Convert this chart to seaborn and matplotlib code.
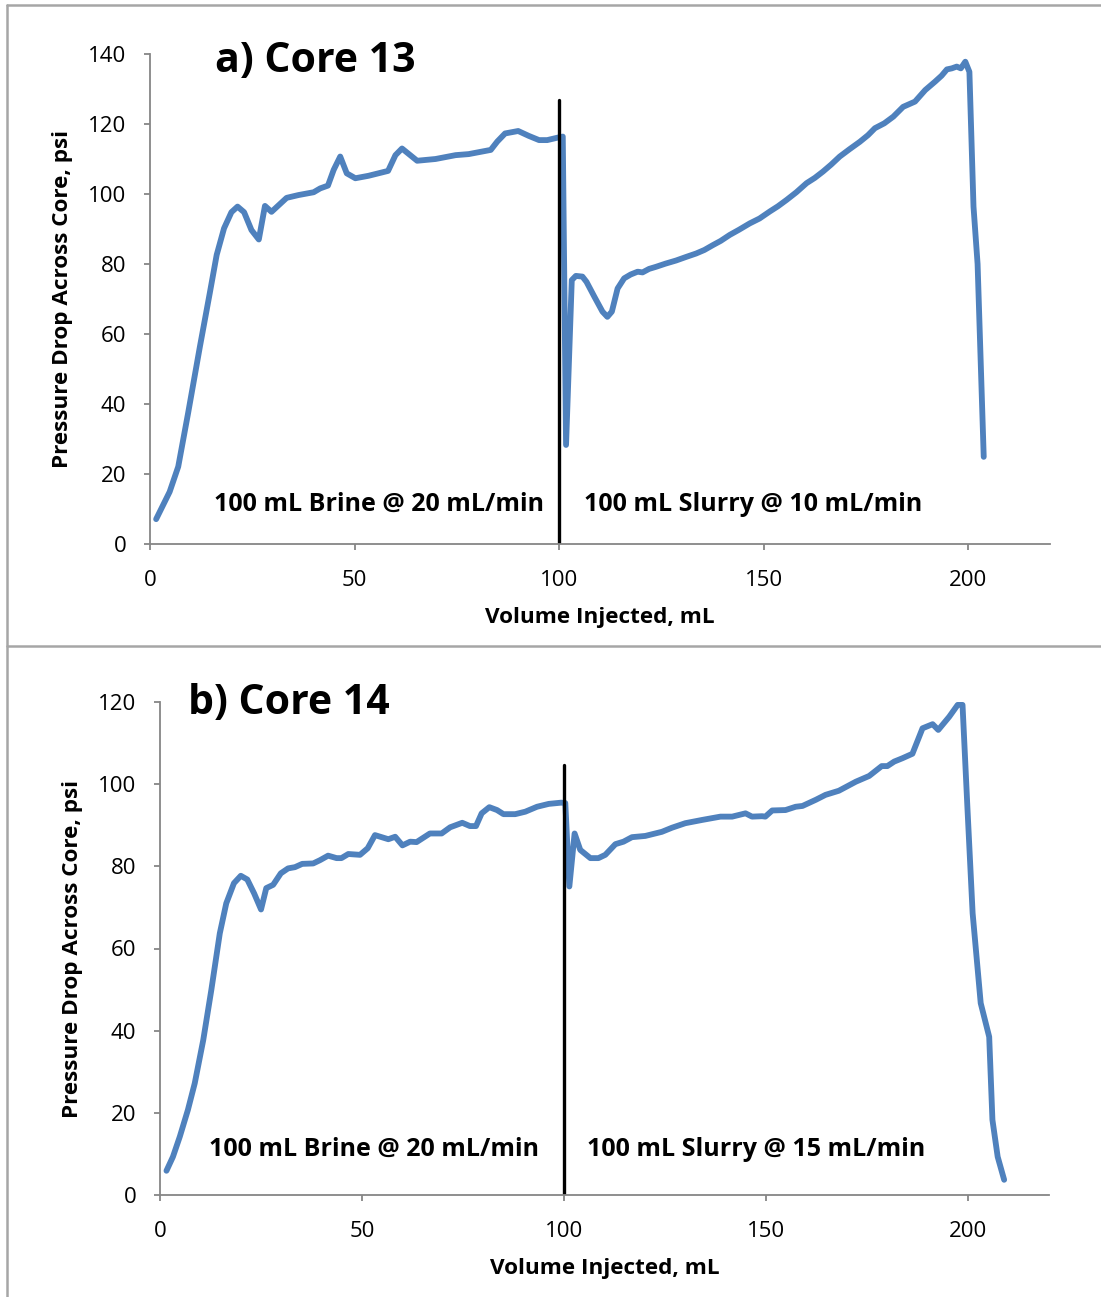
import seaborn as sns
import matplotlib.pyplot as plt
from matplotlib.lines import Line2D

# Core 13: volume injected (mL) vs pressure drop (psi)
core13_vol = [1.5, 4.8, 6.9, 9.3, 12.2, 14.6, 16.3, 18.1, 19.9, 21.4, 23.0, 24.8, 26.6,
              28.1, 29.7, 33.4, 36.3, 40.0, 41.6, 43.5, 44.9, 46.5, 48.1, 50.2, 53.4,
              58.2, 60.0, 61.6, 65.3, 69.8, 74.7, 77.9, 83.3, 84.9, 86.8, 90.0, 92.6,
              95.1, 97.1, 100.0, 100.9, 101.7, 103.1, 104.1, 105.7, 106.7, 108.6, 110.6,
              111.8, 112.9, 114.3, 115.9, 117.5, 119.2, 120.4, 122.0, 123.7, 126.0,
              128.6, 131.0, 133.5, 135.5, 137.6, 139.5, 141.7, 144.0, 146.6, 149.0,
              151.5, 153.5, 155.6, 158.0, 160.5, 162.5, 164.5, 166.5, 168.6, 171.0,
              173.5, 175.5, 177.2, 179.5, 181.7, 184.1, 187.0, 189.5, 191.9, 193.5,
              194.8, 196.0, 197.2, 198.2, 199.3, 200.3, 201.3, 202.3, 203.8]
core13_dp = [7.1, 14.9, 22.1, 37.3, 56.4, 71.6, 82.6, 90.2, 94.8, 96.4, 94.8, 89.7, 87.0,
             96.6, 94.9, 98.9, 99.7, 100.5, 101.6, 102.4, 106.9, 110.7, 105.9, 104.5, 105.2,
             106.6, 111.1, 113.0, 109.5, 110.0, 111.1, 111.4, 112.6, 115.0, 117.3, 118.0, 116.6,
             115.4, 115.4, 116.2, 116.4, 28.3, 75.4, 76.6, 76.4, 74.9, 70.7, 66.4,
             64.9, 66.4, 73.0, 75.9, 77.0, 77.8, 77.6, 78.6, 79.2, 80.1,
             81.0, 82.0, 83.0, 84.0, 85.4, 86.6, 88.3, 89.8, 91.6, 93.0,
             95.0, 96.5, 98.3, 100.5, 103.1, 104.6, 106.4, 108.4, 110.7, 112.8,
             114.9, 116.8, 118.8, 120.2, 122.1, 124.9, 126.4, 129.7, 132.1, 133.8,
             135.6, 135.9, 136.4, 135.9, 137.8, 134.9, 96.4, 80.0, 24.9]

# Core 14
core14_vol = [1.6, 3.2, 4.9, 6.9, 8.6, 10.7, 12.7, 14.8, 16.4, 18.3, 20.0, 21.6, 23.3,
              25.0, 26.3, 28.0, 29.9, 31.7, 33.4, 35.2, 37.9, 39.6, 41.6, 43.7, 44.9,
              46.6, 49.5, 51.4, 53.2, 56.5, 58.2, 60.0, 61.9, 63.5, 66.8, 69.7, 71.8,
              74.8, 76.7, 78.2, 79.6, 81.5, 83.4, 85.0, 87.9, 90.4, 93.3, 96.2, 99.3,
              100.3, 101.3, 102.6, 104.0, 106.5, 108.5, 110.2, 112.7, 114.7, 116.8,
              120.1, 124.2, 126.7, 130.0, 134.2, 138.7, 141.6, 144.9, 146.5, 149.0,
              149.8, 151.5, 154.8, 157.3, 159.0, 162.3, 164.7, 168.0, 172.2, 175.5,
              178.6, 180.0, 181.7, 183.7, 186.2, 188.7, 191.2, 192.6, 195.3, 197.4,
              198.6, 199.8, 201.1, 203.1, 205.2, 206.0, 207.3, 208.9]
core14_dp = [5.9, 9.3, 14.2, 20.7, 27.2, 37.7, 49.9, 63.7, 71.0, 75.9, 77.7, 76.8, 73.4,
             69.5, 74.7, 75.5, 78.3, 79.5, 79.8, 80.6, 80.7, 81.5, 82.6, 82.0, 82.0,
             83.0, 82.8, 84.4, 87.6, 86.6, 87.2, 85.1, 86.0, 85.9, 88.0, 88.0, 89.5,
             90.6, 89.8, 89.8, 92.9, 94.4, 93.7, 92.7, 92.7, 93.3, 94.5, 95.2, 95.5,
             95.4, 75.1, 88.0, 84.0, 82.0, 82.0, 82.8, 85.4, 86.0, 87.1,
             87.4, 88.4, 89.4, 90.5, 91.3, 92.1, 92.1, 92.9, 92.1, 92.2,
             92.1, 93.6, 93.7, 94.5, 94.7, 96.2, 97.4, 98.4, 100.6, 102.0,
             104.4, 104.4, 105.5, 106.3, 107.4, 113.6, 114.6, 113.2, 116.4, 119.3,
             119.3, 94.5, 68.6, 46.7, 38.5, 18.3, 9.3, 3.7]

panels = [
    dict(title="a) Core 13", vol=core13_vol, dp=core13_dp, ymax=140, marker_top=127,
         left="100 mL Brine @ 20 mL/min", right="100 mL Slurry @ 10 mL/min",
         note_y=11.3, left_end=96.3, right_start=106.1),
    dict(title="b) Core 14", vol=core14_vol, dp=core14_dp, ymax=120, marker_top=104.7,
         left="100 mL Brine @ 20 mL/min", right="100 mL Slurry @ 15 mL/min",
         note_y=11.0, left_end=93.7, right_start=105.6),
]

sns.set_style("ticks")
plt.rcParams["font.family"] = ["Open Sans", "DejaVu Sans"]
plt.rcParams["text.color"] = "black"
plt.rcParams["axes.labelcolor"] = "black"

W, H = 1101, 1297
fig = plt.figure(figsize=(W / 100, H / 100), dpi=100)
axes_px = [(150, 54, 1050, 544), (160, 702, 1049, 1195)]
label_x = [73, 83]
title_pos = [(215, 61), (188, 704)]

gray = "#868686"
for p, (x0, y0, x1, y1), lx, (tx, ty) in zip(panels, axes_px, label_x, title_pos):
    ax = fig.add_axes([x0 / W, 1 - y1 / H, (x1 - x0) / W, (y1 - y0) / H])
    sns.lineplot(x=p["vol"], y=p["dp"], ax=ax, color="#4F81BD", linewidth=4.2,
                 sort=False, estimator=None)
    ax.plot([100, 100], [0, p["marker_top"]], color="black", linewidth=2.4)
    ax.set_xlim(0, 220)
    ax.set_ylim(0, p["ymax"])
    ax.set_xticks([0, 50, 100, 150, 200])
    ax.set_yticks(range(0, p["ymax"] + 1, 20))
    sns.despine(ax=ax)
    for s in ("left", "bottom"):
        ax.spines[s].set_color(gray)
        ax.spines[s].set_linewidth(1.3)
    ax.tick_params(colors=gray, labelcolor="black", labelsize=16, length=4, width=1.3)
    ax.tick_params(axis="y", pad=13)
    ax.tick_params(axis="x", pad=15)
    ax.set_xlabel("Volume Injected, mL", fontsize=16.2, fontweight="bold", labelpad=11)
    ax.set_ylabel("Pressure Drop Across Core, psi", fontsize=16.2, fontweight="bold")
    ax.yaxis.set_label_coords((lx - x0) / (x1 - x0), 0.5)
    ax.text((tx - x0) / (x1 - x0), (y1 - ty) / (y1 - y0), p["title"],
            transform=ax.transAxes, fontsize=29.5, fontweight="bold",
            va="center", ha="left")
    ax.text(p["left_end"], p["note_y"], p["left"], fontsize=18, fontweight="bold",
            ha="right", va="center")
    ax.text(p["right_start"], p["note_y"], p["right"], fontsize=18, fontweight="bold",
            ha="left", va="center")

# panel frames
for yy in (5, 646):
    fig.add_artist(Line2D([7 / W, 1], [1 - yy / H, 1 - yy / H], color="#A6A6A6", lw=1.8))
fig.add_artist(Line2D([7 / W, 7 / W], [1 - 5 / H, 0], color="#A6A6A6", lw=1.8))

fig.savefig("out.png", dpi=100)
